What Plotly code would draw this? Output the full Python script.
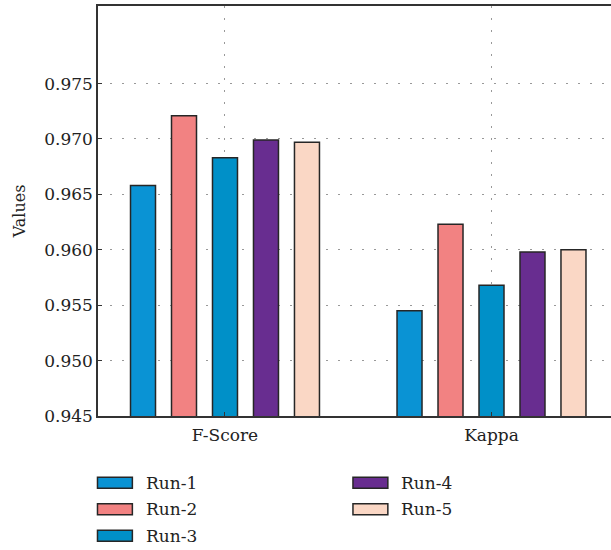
import plotly.graph_objects as go

# Metrics and runs
categories = ["F-Score", "Kappa"]
runs = ["Run-1", "Run-2", "Run-3", "Run-4", "Run-5"]
fscore = [0.9658, 0.9721, 0.9683, 0.9699, 0.9697]
kappa = [0.9545, 0.9623, 0.9568, 0.9598, 0.9600]
colors = ["#0A93D4", "#F28282", "#0090C8", "#682D90", "#FAD7C5"]

y_ticks = [0.945, 0.950, 0.955, 0.960, 0.965, 0.970, 0.975]

FONT = "DejaVu Serif"
x_pos = list(range(len(categories)))

fig = go.Figure()
for i, run in enumerate(runs):
    fig.add_trace(go.Bar(
        x=x_pos,
        y=[fscore[i], kappa[i]],
        name=run,
        marker=dict(color=colors[i], line=dict(color="#262626", width=1.5)),
        showlegend=False,
    ))

# Legend drawn as swatches + labels in two columns (column-major order)
legend_cols = [0.0, 0.498]
shapes = []
annotations = []
rows_per_col = 3
for i, run in enumerate(runs):
    col = i // rows_per_col
    row = i % rows_per_col
    x0 = -0.001 + legend_cols[col]
    yc = -0.163 - row * 0.0645
    shapes.append(dict(
        type="rect", xref="paper", yref="paper",
        x0=x0, x1=x0 + 0.068, y0=yc - 0.0135, y1=yc + 0.0135,
        fillcolor=colors[i], line=dict(color="#262626", width=1.5),
    ))
    annotations.append(dict(
        xref="paper", yref="paper", x=x0 + 0.09, y=yc,
        text=run, showarrow=False, xanchor="left", yanchor="middle",
        font=dict(family=FONT, size=17, color="#222"),
    ))

fig.update_layout(
    width=611, height=550,
    margin=dict(l=98, r=0, t=6, b=134),
    paper_bgcolor="white", plot_bgcolor="white",
    barmode="group", bargap=0.231, bargroupgap=0.39,
    font=dict(family=FONT, size=17, color="#222"),
    shapes=shapes, annotations=annotations,
)
fig.update_xaxes(
    range=[-0.4765, 1.4484],
    tickmode="array", tickvals=x_pos, ticktext=categories,
    showline=True, linecolor="#333", linewidth=1.5, mirror=True,
    ticks="inside", ticklen=4, tickcolor="#333",
    showgrid=True, gridcolor="#999", griddash="2px,10px", gridwidth=1,
    zeroline=False, ticklabelstandoff=3,
    tickfont=dict(family=FONT, size=17),
)
fig.update_yaxes(
    range=[0.945, 0.982],
    tickmode="array", tickvals=y_ticks, tickformat=".3f",
    showline=True, linecolor="#333", linewidth=1.5, mirror=False,
    ticks="inside", ticklen=4, tickcolor="#333",
    showgrid=True, gridcolor="#999", griddash="2px,10px", gridwidth=1,
    zeroline=False,
    tickfont=dict(family=FONT, size=17),
    title=dict(text="Values", font=dict(family=FONT, size=16), standoff=15),
)

fig.write_html("out.html")
